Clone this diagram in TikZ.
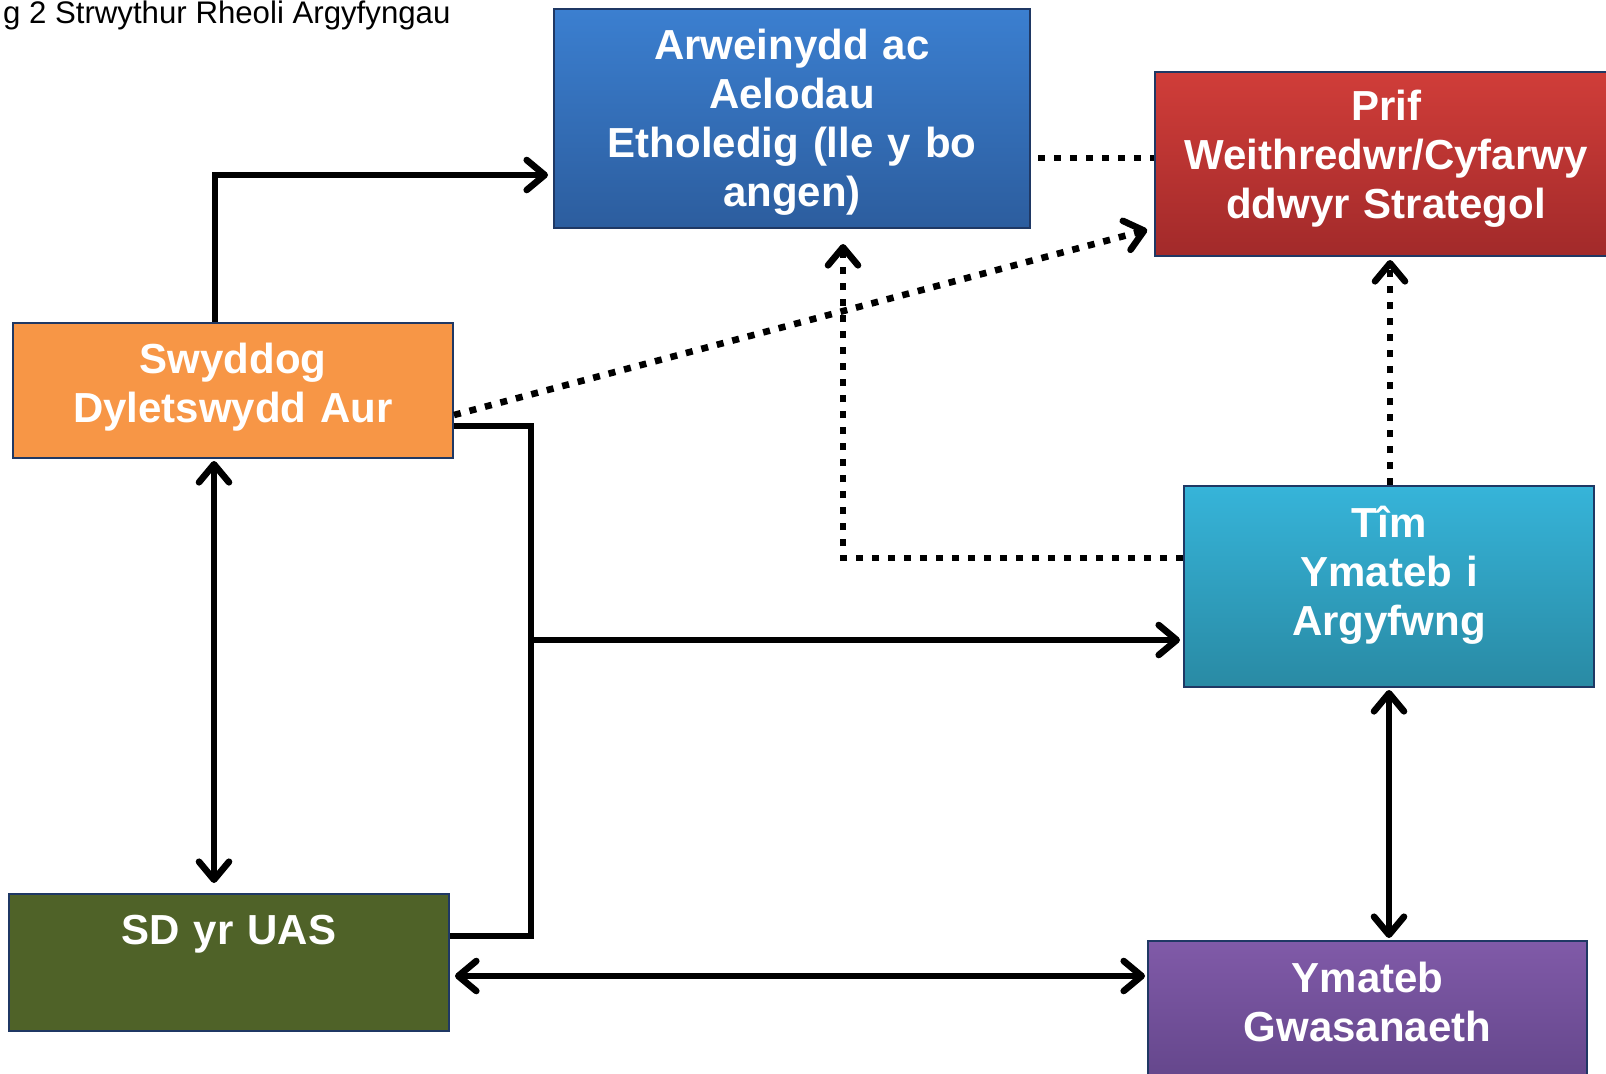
\documentclass[tikz,border=0pt]{standalone}
\usepackage{fontspec}
\setmainfont{Liberation Sans}
\usetikzlibrary{arrows.meta}

\definecolor{boxline}{RGB}{31,56,100}
\definecolor{leadtop}{RGB}{59,127,208}
\definecolor{leadbot}{RGB}{44,93,158}
\definecolor{chieftop}{RGB}{208,61,57}
\definecolor{chiefbot}{RGB}{162,42,42}
\definecolor{goldfill}{RGB}{247,150,70}
\definecolor{teamtop}{RGB}{54,180,217}
\definecolor{teambot}{RGB}{41,138,164}
\definecolor{sdfill}{RGB}{79,98,40}
\definecolor{srvtop}{RGB}{128,90,168}
\definecolor{srvbot}{RGB}{94,66,133}

\newcommand\boxfont{\fontsize{21}{24.5}\selectfont\bfseries}
\newcommand\capfont{\fontsize{15.6}{18}\selectfont}

\begin{document}
\begin{tikzpicture}[x=0.5pt, y=-0.5pt,
                    >={Straight Barb[length=9pt,width=15pt,round]},
                    box/.style={draw=boxline, line width=1pt, inner sep=0pt,
                                anchor=north west, align=center, text=white, font=\boxfont},
                    conn/.style={line width=3.3pt, line join=miter},
                    dots/.style={line width=3.3pt, dash pattern=on 3.5pt off 4.5pt}]
  \useasboundingbox (0,0) rectangle (1606,1073);
  \clip (0,0) rectangle (1606,1073);

  \node[anchor=base west, font=\capfont] (caption) at (-4,23) {g 2 Strwythur Rheoli Argyfyngau};

  \node[box, top color=leadtop, bottom color=leadbot, text width=238pt,
        text height=25pt, text depth=84.5pt] (lead) at (553,8)
        {Arweinydd ac\\Aelodau\\Etholedig (lle y bo\\angen)};
  \node[box, top color=chieftop, bottom color=chiefbot, text width=231pt,
        text height=24.25pt, text depth=67.75pt] (chief) at (1154,71)
        {Prif\\Weithredwr/Cyfarwy\\ddwyr Strategol};
  \node[box, fill=goldfill, text width=220pt,
        text height=25pt, text depth=42.5pt] (gold) at (12,322)
        {Swyddog\\Dyletswydd Aur};
  \node[box, top color=teamtop, bottom color=teambot, text width=205pt,
        text height=25.5pt, text depth=75pt] (team) at (1183,485)
        {Tîm\\Ymateb i\\Argyfwng};
  \node[box, fill=sdfill, text width=220pt,
        text height=25pt, text depth=43.5pt] (sd) at (8,893)
        {SD yr UAS};
  \node[box, top color=srvtop, bottom color=srvbot, text width=219.5pt,
        text height=25.5pt, text depth=59.5pt] (service) at (1147,940)
        {Ymateb\\Gwasanaeth};

  % bends and levels of the connectors
  \coordinate (upbend)    at (215,175);
  \coordinate (tielev)    at (0,158);
  \coordinate (diagstart) at (0,415);
  \coordinate (teambend)  at (843,558);
  \coordinate (trunktop)  at (531,426);
  \coordinate (trunkbot)  at (531,936);
  \coordinate (branchlev) at (0,640);
  \coordinate (goldsd)    at (214,0);
  \coordinate (sdsrv)     at (0,976);
  \coordinate (teamchief) at (1390,0);

  % solid lines
  \draw[conn,->,shorten >=2.5pt] (gold.north -| upbend) |- (lead.west |- upbend);
  \draw[conn] (gold.east |- trunktop) -- (trunktop) -- (trunkbot) -- (sd.east |- trunkbot);
  \draw[conn,->,shorten >=1.5pt] (trunktop |- branchlev) -- (team.west |- branchlev);
  \draw[conn,<->,shorten <=1pt,shorten >=5pt] (gold.south -| goldsd) -- (sd.north -| goldsd);
  \draw[conn,<->,shorten <=2.5pt,shorten >=1pt] (sd.east |- sdsrv) -- (service.west |- sdsrv);
  \draw[conn,<->,shorten <=1pt,shorten >=1pt] (team.south) -- (team.south |- service.north);

  % dotted lines
  \draw[dots,shorten <=3.5pt] (lead.east |- tielev) -- (chief.west |- tielev);
  \draw[dots,->,shorten >=3.5pt] (gold.east |- diagstart) -- ([yshift=-32pt]chief.west);
  \draw[dots,->,shorten >=7.5pt] (team.west |- teambend) -| (lead.south -| teambend);
  \draw[dots,->,shorten >=1.5pt] (team.north -| teamchief) -- (chief.south -| teamchief);
\end{tikzpicture}
\end{document}
